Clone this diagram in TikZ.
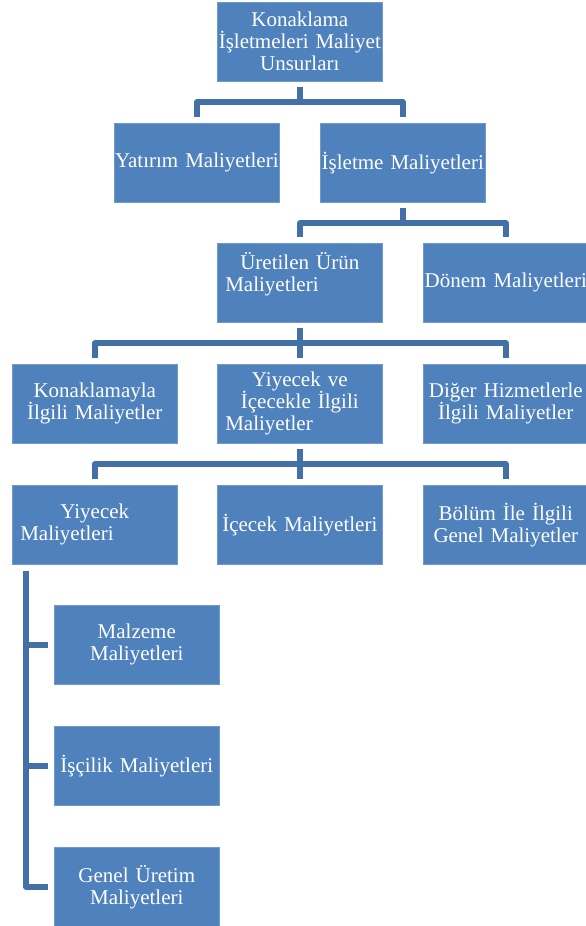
\documentclass[tikz,border=0pt]{standalone}
\usepackage{fontspec}
\setmainfont{Liberation Serif}
\definecolor{boxblue}{HTML}{4F81BD}
\definecolor{boxedge}{HTML}{7099CC}
\definecolor{linkblue}{HTML}{4470A8}
% last line of a wrapped label, set flush left inside the box
\newcommand{\flushline}[1]{\makebox[149pt][l]{#1}}
\begin{document}
\begin{tikzpicture}[x=1pt,y=-1pt,
  costbox/.style={anchor=north west, fill=boxblue, draw=boxedge, line width=0.6pt,
    minimum width=165pt, minimum height=79pt, inner sep=0pt, text width=165pt,
    align=center, text=white, font=\fontsize{21}{22}\selectfont},
  link/.style={draw=linkblue, line width=5.5pt, line join=round}]
\useasboundingbox (0,0) rectangle (586,926);

% boxes, row by row
\node[costbox] (top) at (217,2) {Konaklama\\ \makebox[162pt]{İşletmeleri\hfill Maliyet}\\ Unsurları};
\node[costbox] (yat) at (114,123) {Yatırım Maliyetleri};
\node[costbox] (isl) at (320,123) {İşletme Maliyetleri};
\node[costbox] (ure) at (217,243) {Üretilen Ürün\\ \flushline{Maliyetleri}\\ \mbox{}};
\node[costbox] (don) at (423,243) {Dönem Maliyetleri};
\node[costbox] (kon) at (12,364) {Konaklamayla\\ İlgili Maliyetler};
\node[costbox] (yvi) at (217,364) {Yiyecek ve\\ İçecekle İlgili\\ \flushline{Maliyetler}};
\node[costbox] (dig) at (423,364) {Diğer Hizmetlerle\\ İlgili Maliyetler};
\node[costbox] (yiy) at (12,485) {Yiyecek\\ \flushline{Maliyetleri}};
\node[costbox] (ice) at (217,485) {İçecek Maliyetleri};
\node[costbox] (bol) at (423,485) {Bölüm İle İlgili\\ Genel Maliyetler};
\node[costbox] (mal) at (54,605) {Malzeme\\ Maliyetleri};
\node[costbox] (isc) at (54,726) {İşçilik Maliyetleri};
\node[costbox] (gen) at (54,847) {Genel Üretim\\ Maliyetleri};

% elbow connectors from parent to children
\foreach \p/\c in {top/yat, top/isl, isl/ure, isl/don,
                   ure/kon, ure/yvi, ure/dig, yvi/yiy, yvi/ice, yvi/bol}
  \draw[link] ([yshift=-5pt]\p.south) -- ([yshift=-20.5pt]\p.south) -| ([yshift=6pt]\c.north);

% side bracket under the food costs box
\foreach \c in {mal, isc, gen}
  \draw[link] ([xshift=13.8pt,yshift=-6pt]yiy.south west) |- ([xshift=-6pt]\c.west);
\end{tikzpicture}
\end{document}
